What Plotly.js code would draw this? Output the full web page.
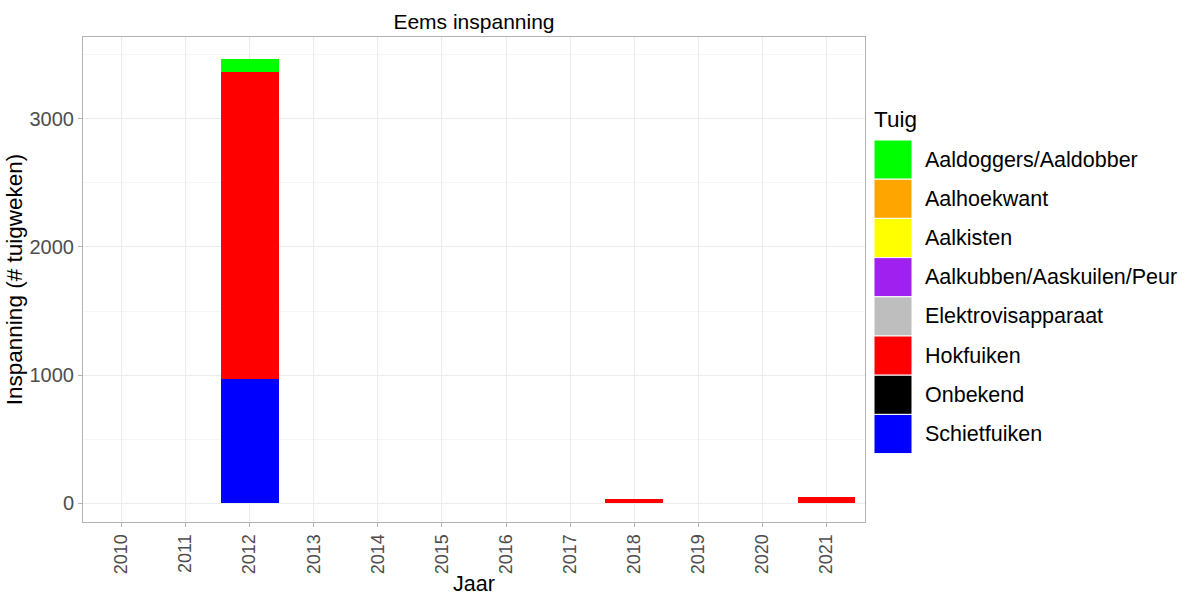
<!DOCTYPE html>
<html><head><meta charset="utf-8">
<script src="https://cdn.plot.ly/plotly-3.0.1.min.js"></script>
<style>body{margin:0;background:#fff}#c{width:1191px;height:597px}</style>
</head><body><div id="c"></div>
<script>
const years = ['2010','2011','2012','2013','2014','2015','2016','2017','2018','2019','2020','2021'];
const gearNames = ['Aaldoggers/Aaldobber','Aalhoekwant','Aalkisten','Aalkubben/Aaskuilen/Peur','Elektrovisapparaat','Hokfuiken','Onbekend','Schietfuiken'];
const gearColors = ['#00ff00','#ffa500','#ffff00','#a020f0','#bebebe','#ff0000','#000000','#0000ff'];
// values per gear (stack order bottom->top: Schietfuiken, Hokfuiken, ..., Aaldoggers)
const aaldoggers = [null,null,105,null,null,null,null,null,null,null,null,null];
const aalhoekwant = [null,null,null,null,null,null,null,null,null,null,null,null];
const aalkisten = [null,null,null,null,null,null,null,null,null,null,null,null];
const aalkubben = [null,null,null,null,null,null,null,null,null,null,null,null];
const elektro = [null,null,null,null,null,null,null,null,null,null,null,null];
const hokfuiken = [null,null,2393,null,null,null,null,null,28,null,null,47];
const onbekend = [null,null,null,null,null,null,null,null,null,null,null,null];
const schietfuiken = [null,null,970,null,null,null,null,null,null,null,null,null];
const seriesVals = [aaldoggers,aalhoekwant,aalkisten,aalkubben,elektro,hokfuiken,onbekend,schietfuiken];
const yTicks = [0,1000,2000,3000];

const traces = [];
for (let i = gearNames.length-1; i >= 0; i--) {
  traces.push({type:'bar', x:years, y:seriesVals[i], name:gearNames[i],
    marker:{color:gearColors[i], line:{width:0}}, width:0.9, showlegend:false});
}

const L=83, R=865, T=37, B=522;
const W=R-L, H=B-T;
const px=(p)=>(p-L)/W, py=(p)=>(B-p)/H;
const shapes=[], annotations=[];
const keyTop=140, keyH=39.2;
gearNames.forEach((n,i)=>{
  const y0=keyTop+i*keyH;
  shapes.push({type:'rect',xref:'paper',yref:'paper',x0:px(874),x1:px(912),y0:py(y0+keyH),y1:py(y0),
    fillcolor:gearColors[i],line:{color:'#ffffff',width:1},layer:'above'});
  annotations.push({xref:'paper',yref:'paper',x:px(923),y:py(y0+keyH/2),text:n,showarrow:false,
    xanchor:'left',yanchor:'middle',font:{size:21.5,color:'#000'}});
});
annotations.push({xref:'paper',yref:'paper',x:px(872),y:py(120),text:'Tuig',showarrow:false,
  xanchor:'left',yanchor:'middle',font:{size:22.5,color:'#000'}});

const layout = {
  width:1191,height:597,
  margin:{l:L,r:1191-R,t:T,b:597-B},
  paper_bgcolor:'#fff',plot_bgcolor:'#fff',
  font:{family:'Liberation Sans, Arial, sans-serif',color:'#000'},
  barmode:'stack',bargap:0.1,
  title:{text:'Eems inspanning',x:(L+R)/2/1191,xanchor:'center',y:1-22/597,yanchor:'middle',font:{size:21,color:'#000'}},
  xaxis:{type:'category',categoryorder:'array',categoryarray:years,range:[-0.6,11.6],
    tickangle:-90,tickfont:{size:18,color:'#4d4d4d'},ticks:'outside',ticklen:4,tickcolor:'#b3b3b3',
    showgrid:true,gridcolor:'#ececec',gridwidth:1,zeroline:false,
    showline:true,mirror:true,linecolor:'#b3b3b3',linewidth:1,
    title:{text:'Jaar',font:{size:21.5,color:'#000'},standoff:2}},
  yaxis:{range:[-148,3640],tickvals:yTicks,ticktext:yTicks.map(String),
    tickfont:{size:20,color:'#4d4d4d'},ticks:'outside',ticklen:4,tickcolor:'#b3b3b3',
    showgrid:true,gridcolor:'#ececec',gridwidth:1,zeroline:false,
    minor:{tickvals:[500,1500,2500,3500],showgrid:true,gridcolor:'#f5f5f5',ticks:''},
    showline:true,mirror:true,linecolor:'#b3b3b3',linewidth:1,
    title:{text:'Inspanning (# tuigweken)',font:{size:22.5,color:'#000'},standoff:0}},
  shapes:shapes,annotations:annotations,showlegend:false
};
Plotly.newPlot('c',traces,layout,{displayModeBar:false,staticPlot:true});
</script></body></html>
